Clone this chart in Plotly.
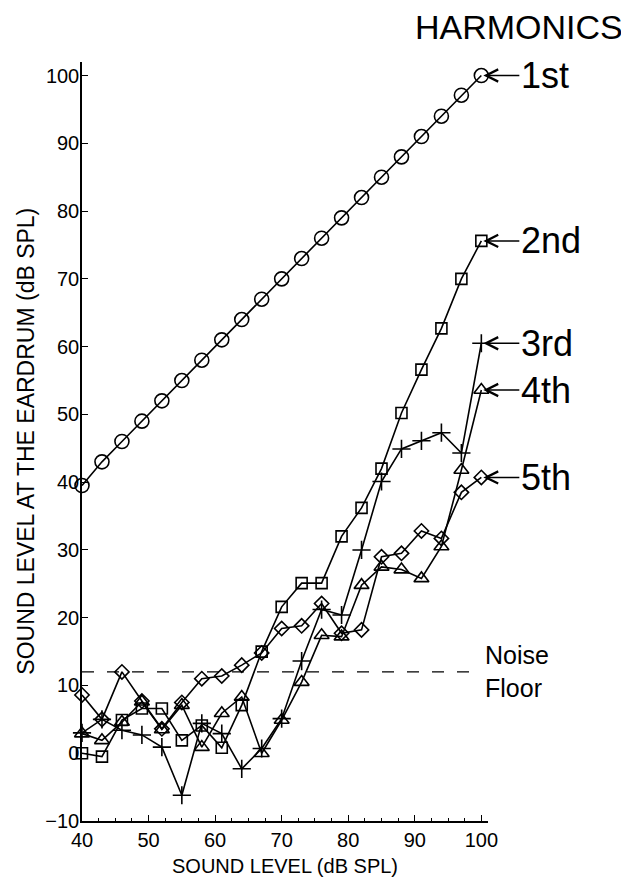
import plotly.graph_objects as go

levels = [40, 43, 46, 49, 52, 55, 58, 61, 64, 67, 70, 73, 76, 79, 82, 85, 88, 91, 94, 97, 100]
h1 = [39.5, 43, 46, 49, 52, 55, 58, 61, 64, 67, 70, 73, 76, 79, 82, 85, 88, 91, 94, 97.1, 100]
h2 = [0, -0.5, 4.9, 6.6, 6.6, 1.9, 4.1, 0.8, 7.1, 15.0, 21.6, 25.1, 25.1, 32.0, 36.2, 42.0, 50.2, 56.6, 62.7, 70.0, 75.6]
h3 = [3.0, 5.0, 3.4, 2.7, 0.9, -6.2, 4.4, 2.9, -2.3, 0.7, 5.1, 13.6, 21.2, 20.4, 30.0, 40.1, 44.9, 46.1, 47.3, 44.3, 60.5]
h4 = [2.9, 1.9, 4.6, 7.6, 3.5, 7.1, 0.9, 5.9, 8.3, 0.0, 4.9, 10.5, 17.4, 17.2, 24.8, 27.5, 27.1, 25.8, 30.5, 41.8, 53.6]
h5 = [8.6, 5.0, 12.0, 7.7, 3.6, 7.5, 11.0, 11.4, 13.0, 14.8, 18.4, 18.8, 22.1, 17.7, 18.2, 29.0, 29.5, 32.8, 31.7, 38.5, 40.7]
harmonic_labels = ["1st", "2nd", "3rd", "4th", "5th"]
noise_x = [40, 99.1]
noise_y = [12, 12]

FONT = "Liberation Sans, Arial, Helvetica, sans-serif"

series = [
    (h1, "circle-open", 14),
    (h2, "square-open", 11),
    (h3, "cross-thin-open", 13),
    (h4, "triangle-up-open", 13),
    (h5, "diamond-open", 11),
]

fig = go.Figure()
fig.add_trace(go.Scatter(x=noise_x, y=noise_y, mode="lines",
                         line=dict(color="black", width=1.3, dash="12px,13px"),
                         hoverinfo="skip", showlegend=False))
for vals, sym, sz in series:
    fig.add_trace(go.Scatter(
        x=levels, y=vals, mode="lines+markers",
        line=dict(color="black", width=1.6),
        marker=dict(symbol=sym, size=sz, color="black",
                    line=dict(color="black", width=1.6)),
        cliponaxis=False, showlegend=False))

for (vals, _, _), lab in zip(series, harmonic_labels):
    fig.add_annotation(x=levels[-1], y=vals[-1], xref="x", yref="y",
                       text=lab, showarrow=True, ax=38, ay=0,
                       axref="pixel", ayref="pixel",
                       xanchor="left", yanchor="middle",
                       arrowhead=5, arrowsize=1.6, arrowwidth=1.5,
                       arrowcolor="black", standoff=2,
                       font=dict(family=FONT, size=36, color="black"))

fig.add_annotation(x=100.2, y=noise_y[0], xref="x", yref="y",
                   text="Noise<br>Floor", showarrow=False,
                   xanchor="left", yanchor="middle", align="left",
                   font=dict(family=FONT, size=25, color="black"))

fig.add_annotation(x=1.338, y=1.046, xref="paper", yref="paper",
                   text="HARMONICS", showarrow=False,
                   xanchor="right", yanchor="middle",
                   font=dict(family=FONT, size=34, color="black"))

fig.add_annotation(x=0.5, y=-0.0593, xref="paper", yref="paper",
                   text="SOUND LEVEL (dB SPL)", showarrow=False,
                   xanchor="center", yanchor="middle",
                   font=dict(family=FONT, size=20, color="black"))

fig.add_annotation(x=-0.14, y=0.5, xref="paper", yref="paper",
                   text="SOUND LEVEL AT THE EARDRUM (dB SPL)", showarrow=False,
                   textangle=-90, xanchor="center", yanchor="middle",
                   font=dict(family=FONT, size=23, color="black"))

fig.update_xaxes(range=[40, 101], showline=True, linecolor="black", linewidth=1.5,
                 ticks="inside", ticklen=6, tickwidth=1.3, tickcolor="black",
                 tickvals=[40, 50, 60, 70, 80, 90, 100],
                 minor=dict(dtick=2.5, tick0=40, ticks="inside", ticklen=3,
                            tickcolor="black", tickwidth=1),
                 showgrid=False, zeroline=False, ticklabelstandoff=0,
                 tickfont=dict(family=FONT, size=20, color="black"))
fig.update_yaxes(range=[-10, 102], showline=True, linecolor="black", linewidth=1.5,
                 ticks="inside", ticklen=6, tickwidth=1.3, tickcolor="black",
                 tickvals=[-10, 0, 10, 20, 30, 40, 50, 60, 70, 80, 90, 100],
                 showgrid=False, zeroline=False, ticklabelstandoff=-3,
                 tickfont=dict(family=FONT, size=20, color="black"))

# the page body has an 8px margin, so the figure is drawn 8px smaller
fig.update_layout(width=621, height=871,
                  margin=dict(l=74, r=141, t=54, b=58, autoexpand=False),
                  paper_bgcolor="white", plot_bgcolor="white")

fig.write_html("out.html")
